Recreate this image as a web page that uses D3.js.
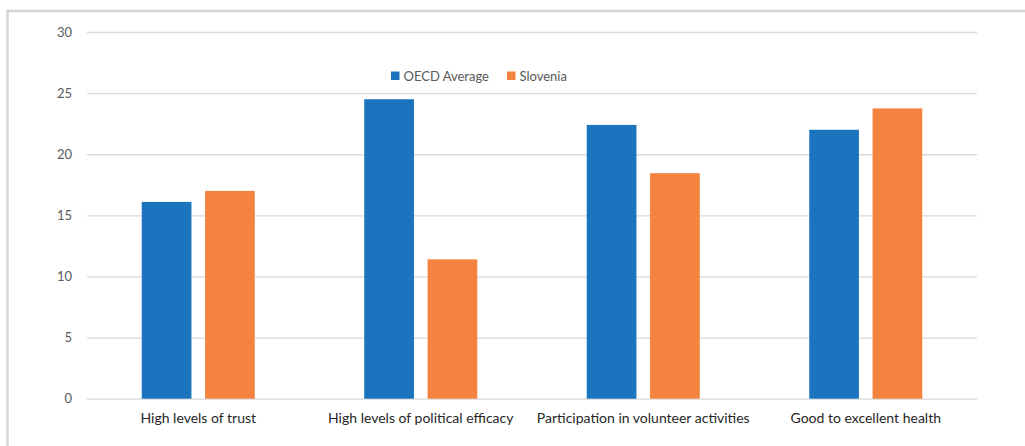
<!DOCTYPE html>
<html>
<head>
<meta charset="utf-8">
<script src="https://cdn.jsdelivr.net/npm/d3@7"></script>
<style>
  html, body { margin: 0; padding: 0; background: #ffffff; }
  svg { display: block; }
  text { font-family: Lato, "Open Sans", sans-serif; }
</style>
</head>
<body>
<script>
// Wellbeing indicators: OECD average vs Slovenia
const categories = [
  "High levels of trust",
  "High levels of political efficacy",
  "Participation in volunteer activities",
  "Good to excellent health"
];
const seriesNames = ["OECD Average", "Slovenia"];
const oecdValues = [16.1, 24.5, 22.4, 22.0];
const sloveniaValues = [17.0, 11.4, 18.45, 23.75];
const yTicks = [0, 5, 10, 15, 20, 25, 30];

const colors = { "OECD Average": "#1b74bd", "Slovenia": "#f4833f" };

const W = 1025, H = 446;
const margin = { left: 87, right: 48, top: 32, bottom: 47 };

const svg = d3.select("body").append("svg")
  .attr("width", W).attr("height", H);

// outer frame
svg.append("rect")
  .attr("x", 7.5).attr("y", 11)
  .attr("width", 1100).attr("height", 500)
  .attr("fill", "none")
  .attr("stroke", "#d6d6d6")
  .attr("stroke-width", 2.5);

const y = d3.scaleLinear()
  .domain([0, 30])
  .range([H - margin.bottom - 0.3, margin.top]);

const x0 = d3.scaleBand()
  .domain(categories)
  .range([margin.left, W - margin.right])
  .padding(0);

const bw = x0.bandwidth();
const x1 = d3.scaleBand()
  .domain(seriesNames)
  .range([bw * 0.246, bw * 0.754])
  .paddingInner(0.215)
  .paddingOuter(0);

// horizontal gridlines + value labels
const yAxis = d3.axisLeft(y)
  .tickValues(yTicks)
  .tickSize(-(W - margin.right - margin.left))
  .tickPadding(15)
  .tickFormat(d3.format("d"));

const gy = svg.append("g")
  .attr("transform", `translate(${margin.left},0)`)
  .call(yAxis);
gy.select(".domain").remove();
gy.selectAll(".tick line")
  .attr("stroke", "#d9d9d9")
  .attr("stroke-width", 1.3);
gy.selectAll(".tick text")
  .attr("fill", "#595959")
  .attr("font-size", 13)
  .attr("x", -15);

// bars
const rows = categories.map((c, i) => ({
  category: c,
  values: [
    { key: "OECD Average", value: oecdValues[i] },
    { key: "Slovenia", value: sloveniaValues[i] }
  ]
}));

const groups = svg.append("g").selectAll("g")
  .data(rows)
  .join("g")
  .attr("transform", d => `translate(${x0(d.category)},0)`);

groups.selectAll("rect")
  .data(d => d.values)
  .join("rect")
  .attr("x", d => x1(d.key))
  .attr("width", x1.bandwidth())
  .attr("y", d => y(d.value))
  .attr("height", d => y(0) - y(d.value))
  .attr("fill", d => colors[d.key]);

// category axis
const xAxis = d3.axisBottom(x0).tickSize(0).tickPadding(14);
const gx = svg.append("g")
  .attr("transform", `translate(0,${y(0)})`)
  .call(xAxis);
gx.select(".domain").remove();
gx.selectAll(".tick text")
  .attr("fill", "#262626")
  .attr("font-size", 14);

// legend
const legend = svg.append("g").attr("transform", "translate(391,76)");
const legendX = [0, 116];
seriesNames.forEach((name, i) => {
  const g = legend.append("g").attr("transform", `translate(${legendX[i]},0)`);
  g.append("rect")
    .attr("x", 0).attr("y", -4.5)
    .attr("width", 8.5).attr("height", 8.5)
    .attr("fill", colors[name]);
  g.append("text")
    .attr("x", 12.5).attr("y", 0)
    .attr("dy", "0.35em")
    .attr("fill", "#595959")
    .attr("font-size", 13)
    .text(name);
});
</script>
</body>
</html>
